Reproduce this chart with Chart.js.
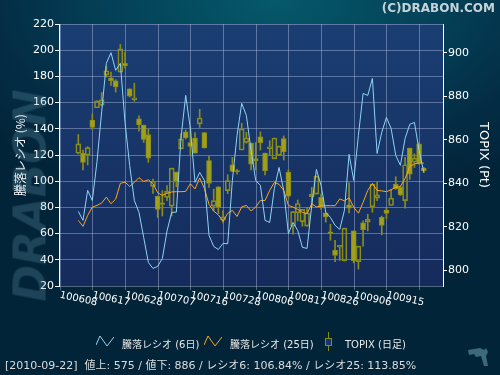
<!DOCTYPE html>
<html>
<head>
<meta charset="utf-8">
<script src="https://cdn.jsdelivr.net/npm/chart.js@4.4.0/dist/chart.umd.min.js"></script>
<style>
  html, body { margin: 0; padding: 0; background: #022236; }
  #wrap {
    position: relative; width: 500px; height: 375px; overflow: hidden;
    background: radial-gradient(ellipse 75% 55% at 55% 0%, #05596a 0%, #04435a 40%, #032d45 75%, #022439 100%);
    font-family: "DejaVu Sans", "Noto Sans CJK JP", sans-serif;
  }
  #chart { position: absolute; left: 0; top: 0; }
  .copy { position: absolute; right: 5px; top: 1px; font: bold 12px "DejaVu Sans", sans-serif; color: #c6d4d9; }
  .mark {
    position: absolute; left: -80px; top: 170px; width: 220px; text-align: center;
    font: italic bold 44px "DejaVu Sans", sans-serif; color: rgba(110, 160, 178, 0.26);
    transform: rotate(-90deg);
  }
  .legend { position: absolute; top: 334px; left: 0; width: 500px; height: 16px; color: #e8e8e8; font-size: 10px; }
  .legend span { position: absolute; top: 2px; font-family: "DejaVu Sans", "Noto Sans CJK JP", sans-serif; }
  .legend svg { position: absolute; top: 0; }
  .status { position: absolute; left: 5px; top: 356px; color: #dcdcdc; font-size: 11px; white-space: pre; font-family: "DejaVu Sans", "Noto Sans CJK JP", sans-serif; }
  .logo { position: absolute; left: 466px; top: 344px; }
</style>
</head>
<body>
<div id="wrap">
  <canvas id="chart" width="500" height="375"></canvas>
  <div class="copy">(C)DRABON.COM</div>
  <div class="mark">DRABON</div>
  <div class="legend">
    <svg style="left:96px" width="18" height="14"><polyline points="0,11 4,2 11,12 18,3" fill="none" stroke="#8fd3f4" stroke-width="1"/></svg>
    <span style="left:122px">騰落レシオ (6日)</span>
    <svg style="left:204px" width="18" height="14"><polyline points="0,11 4,2 11,12 18,3" fill="none" stroke="#ffa51c" stroke-width="1"/></svg>
    <span style="left:230px">騰落レシオ (25日)</span>
    <svg style="left:324px;top:-2px" width="10" height="20"><line x1="4.5" y1="0" x2="4.5" y2="19" stroke="#8a8a18"/><rect x="1.5" y="6.5" width="6" height="7" fill="#163669" stroke="#8a8a18"/></svg>
    <span style="left:345px">TOPIX (日足)</span>
  </div>
  <div class="status">[2010-09-22]  値上: 575 / 値下: 886 / レシオ6: 106.84% / レシオ25: 113.85%</div>
  <svg class="logo" width="26" height="26"><polygon points="2,6 14,4 18,6 20,4 22,8 20,12 22,22 18,22 15,12 10,13 8,10 3,11" fill="#3d6a78"/></svg>
</div>
<script>
// trading days 2010-06-08 .. 2010-09-22 (yymmdd)
const dates = ['100608','100609','100610','100611','100614','100615','100616','100617','100618','100621',
  '100622','100623','100624','100625','100628','100629','100630','100701','100702','100705',
  '100706','100707','100708','100709','100712','100713','100714','100715','100716','100720',
  '100721','100722','100723','100726','100727','100728','100729','100730','100802','100803',
  '100804','100805','100806','100809','100810','100811','100812','100813','100816','100817',
  '100818','100819','100820','100823','100824','100825','100826','100827','100830','100831',
  '100901','100902','100903','100906','100907','100908','100909','100910','100913','100914',
  '100915','100916','100917','100921','100922'];
const labelStep = 7;

// 騰落レシオ (%)
const ratio6 = [76.9, 70.1, 93, 85.3, 115, 153, 190, 198.1, 184.6, 190,
  145, 112, 85.3, 76.2, 57.1, 38, 33.4, 35, 41, 62,
  76.2, 76.4, 133.4, 165.5, 140.3, 99.1, 106.7, 100.6, 58.6, 50.2,
  47.9, 52.5, 52.3, 100.6, 135, 159.4, 150.2, 123.5, 100.6, 96.8,
  70.1, 68.5, 94.5, 110.5, 92.9, 60.1, 68.5, 62.4, 49.5, 48.7,
  81.5, 109, 96.8, 76.2, 72.4, 66.3, 63.2, 77.7, 120.5, 100.6,
  135, 167, 165.5, 178.5, 121.2, 137.3, 148.7, 140.3, 119.7, 112.1,
  132.7, 143.4, 144.9, 123.5, 106.84];
const ratio25 = [70.1, 65.5, 73.9, 80.2, 81.5, 83.3, 87.9, 82.8, 86.3, 98.3,
  99.3, 96.0, 99.1, 102.7, 99.8, 101.1, 98.1, 91.1, 89.2, 90.7,
  91.8, 92, 92, 92.2, 98.1, 94.1, 102.5, 94.5, 82.3, 77.2,
  74.3, 69.3, 75.4, 77.7, 73.1, 80.4, 81.5, 77.3, 80.2, 85.3,
  85.3, 93, 99.1, 97.6, 93, 81.5, 80.2, 78.5, 76.2, 75.2,
  82.7, 80.4, 81.1, 81.3, 81.3, 81.3, 86.5, 85, 87.3, 80,
  75.6, 83.8, 93, 98.3, 93, 92.6, 92, 93.5, 95.3, 96,
  102.1, 111.3, 113.2, 113.8, 113.85];

// TOPIX daily (Pt)
const open = [853.8, 853.8, 853.0, 869.1, 874.7, 875.9, 889.7, 888.5, 887.1, 891.1,
  895.1, 883.4, 878.3, 869.6, 866.8, 862.4, 838.6, 834.1, 831.0, 833.5,
  829.5, 845.2, 855.8, 863.6, 858.7, 860.8, 867.3, 863.3, 850.4, 829.5,
  838.4, 823.0, 836.6, 848.5, 845.8, 855.3, 858.8, 858.5, 851.3, 861.4,
  853.9, 855.9, 851.2, 852.8, 860.5, 845.2, 820.3, 826.4, 822.4, 820.3,
  833.8, 835.0, 833.5, 826.4, 817.7, 809.2, 810.6, 804.3, 830.1, 818.1,
  804.0, 821.8, 822.1, 829.2, 833.2, 824.3, 827.7, 829.8, 839.6, 838.1,
  832.0, 856.2, 849.8, 858.1, 847.0];
const high = [862.4, 855.3, 856.8, 871.9, 877.9, 881.7, 893.7, 891.1, 887.6, 903.8,
  900.2, 883.4, 886.0, 871.0, 866.8, 864.8, 841.9, 834.1, 836.6, 839.0,
  847.0, 845.2, 862.7, 864.5, 865.7, 863.3, 874.0, 863.3, 852.5, 837.3,
  838.4, 827.3, 843.9, 851.9, 846.4, 867.6, 863.4, 858.5, 858.7, 863.6,
  853.9, 859.6, 860.8, 857.1, 861.8, 846.1, 827.0, 832.3, 828.0, 828.9,
  838.1, 843.3, 835.0, 826.4, 821.2, 813.8, 811.5, 819.4, 840.2, 818.1,
  811.1, 822.7, 825.8, 839.6, 840.6, 824.9, 828.6, 837.2, 843.0, 838.7,
  851.9, 856.2, 853.5, 858.7, 847.3];
const low = [853.5, 846.1, 848.4, 864.8, 874.7, 875.6, 888.8, 885.0, 881.9, 891.1,
  892.9, 879.6, 877.7, 863.9, 858.8, 849.6, 835.3, 824.3, 825.0, 832.0,
  825.0, 838.4, 855.8, 860.4, 852.8, 853.8, 865.7, 856.2, 838.1, 827.3,
  826.1, 821.8, 835.3, 845.5, 844.2, 855.3, 858.4, 846.1, 846.1, 855.3,
  843.8, 852.8, 851.2, 852.8, 850.7, 833.2, 816.6, 822.7, 820.3, 820.3,
  828.9, 835.0, 828.0, 822.1, 813.8, 804.0, 804.6, 804.3, 826.4, 803.4,
  800.6, 811.1, 818.1, 826.7, 832.0, 816.3, 823.7, 829.8, 837.2, 834.4,
  828.6, 841.8, 847.3, 848.8, 844.9];
const close = [858.1, 849.6, 856.4, 865.7, 877.9, 878.3, 891.7, 887.0, 884.3, 901.8,
  893.9, 880.0, 879.3, 866.8, 860.2, 851.6, 841.0, 828.0, 830.3, 836.3,
  847.0, 840.9, 860.4, 860.8, 857.0, 853.8, 870.0, 856.2, 839.9, 832.0,
  828.9, 824.6, 841.2, 845.5, 845.3, 865.0, 860.8, 848.8, 850.4, 858.7,
  845.8, 856.8, 860.8, 857.1, 854.4, 834.1, 827.0, 830.7, 828.0, 826.4,
  835.0, 843.3, 828.9, 824.6, 817.0, 806.8, 811.5, 819.4, 828.6, 804.3,
  811.1, 818.7, 823.4, 839.6, 834.7, 820.6, 826.1, 833.2, 837.5, 834.7,
  848.5, 844.2, 851.6, 849.2, 845.8];

const ratioTicks = [20, 40, 60, 80, 100, 120, 140, 160, 180, 200, 220];
const topixTicks = [800, 820, 840, 860, 880, 900];

// each day sits a little right of its grid line
const slot = 0.4;
const xs = dates.map((d, i) => i + slot);

const OLIVE_FILL = '#a0a01a';
const OLIVE_LINE = '#8c8c18';
const GRID = 'rgba(185, 200, 228, 0.42)';

const plotBg = {
  id: 'plotBg',
  beforeDraw(chart) {
    const { ctx, chartArea: { left, top, width, height } } = chart;
    const g = ctx.createLinearGradient(0, top, 0, top + height);
    g.addColorStop(0, '#1a3e73');
    g.addColorStop(1, '#152b5c');
    ctx.save();
    ctx.fillStyle = g;
    ctx.fillRect(left, top, width, height);
    ctx.restore();
  }
};

// slanted date labels under the grid lines
const xLabels = {
  id: 'xLabels',
  afterDraw(chart) {
    const { ctx } = chart;
    const x = chart.scales.x;
    ctx.save();
    ctx.fillStyle = '#ffffff';
    ctx.font = '10px "DejaVu Sans"';
    ctx.textAlign = 'center';
    ctx.textBaseline = 'middle';
    x.ticks.forEach(t => {
      const px = x.getPixelForValue(t.value);
      ctx.save();
      ctx.translate(px + 2, 299);
      ctx.rotate(12 * Math.PI / 180);
      ctx.fillText(dates[t.value], 0, 0);
      ctx.restore();
    });
    ctx.restore();
  }
};

const up = i => close[i] >= open[i];

new Chart(document.getElementById('chart'), {
  type: 'bar',
  data: {
    datasets: [
      {
        type: 'line', label: '騰落レシオ (6日)', yAxisID: 'y',
        data: xs.map((x, i) => ({ x, y: ratio6[i] })),
        borderColor: '#8fd3f4', borderWidth: 1, pointRadius: 0, tension: 0
      },
      {
        type: 'line', label: '騰落レシオ (25日)', yAxisID: 'y',
        data: xs.map((x, i) => ({ x, y: ratio25[i] })),
        borderColor: '#ffa51c', borderWidth: 1, pointRadius: 0, tension: 0
      },
      {
        label: 'TOPIX (日足)', yAxisID: 'y2', grouped: false, barThickness: 5,
        data: xs.map((x, i) => ({ x, y: [open[i], close[i]] })),
        backgroundColor: xs.map((x, i) => up(i) ? 'rgba(0,0,0,0)' : OLIVE_FILL),
        borderColor: OLIVE_LINE, borderWidth: 1, borderSkipped: false
      },
      {
        label: 'wickHi', yAxisID: 'y2', grouped: false, barThickness: 1,
        data: xs.map((x, i) => ({ x, y: [Math.max(open[i], close[i]), high[i]] })),
        backgroundColor: OLIVE_LINE, borderWidth: 0
      },
      {
        label: 'wickLo', yAxisID: 'y2', grouped: false, barThickness: 1,
        data: xs.map((x, i) => ({ x, y: [low[i], Math.min(open[i], close[i])] })),
        backgroundColor: OLIVE_LINE, borderWidth: 0
      }
    ]
  },
  options: {
    responsive: false,
    animation: false,
    layout: { padding: { top: 24, left: 0, right: 0, bottom: 0 } },
    plugins: { legend: { display: false }, tooltip: { enabled: false } },
    scales: {
      x: {
        type: 'linear', min: 0, max: 74.78,
        afterBuildTicks: s => { s.ticks = dates.map((d, i) => i).filter(i => i % labelStep === 0).map(v => ({ value: v })); },
        afterFit: s => { s.height = 89; },
        ticks: { display: false },
        grid: { color: GRID, tickColor: GRID, tickLength: 4 },
        border: { display: false }
      },
      y: {
        position: 'left', min: 20, max: 220,
        afterBuildTicks: s => { s.ticks = ratioTicks.map(v => ({ value: v })); },
        afterFit: s => { s.width = 59; },
        ticks: { color: '#ffffff', font: { family: 'DejaVu Sans', size: 11 }, padding: 1 },
        grid: { color: GRID, tickColor: '#ffffff', tickLength: 4 },
        border: { color: '#ffffff' },
        title: {
          display: true, text: '騰落レシオ (%)', color: '#ffffff',
          font: { family: 'Noto Sans CJK JP', size: 12 }, padding: { top: 13, bottom: 0 }
        }
      },
      y2: {
        position: 'right', min: 792.8, max: 913.2,
        afterBuildTicks: s => { s.ticks = topixTicks.map(v => ({ value: v })); },
        afterFit: s => { s.width = 57; },
        ticks: { color: '#ffffff', font: { family: 'DejaVu Sans', size: 11 }, padding: 1 },
        grid: { drawOnChartArea: false, tickColor: '#ffffff', tickLength: 4 },
        border: { color: '#ffffff' },
        title: {
          display: true, text: 'TOPIX (Pt)', color: '#ffffff',
          font: { family: 'DejaVu Sans', size: 13 }, padding: { top: 9, bottom: 0 }
        }
      }
    }
  },
  plugins: [plotBg, xLabels]
});
</script>
</body>
</html>
